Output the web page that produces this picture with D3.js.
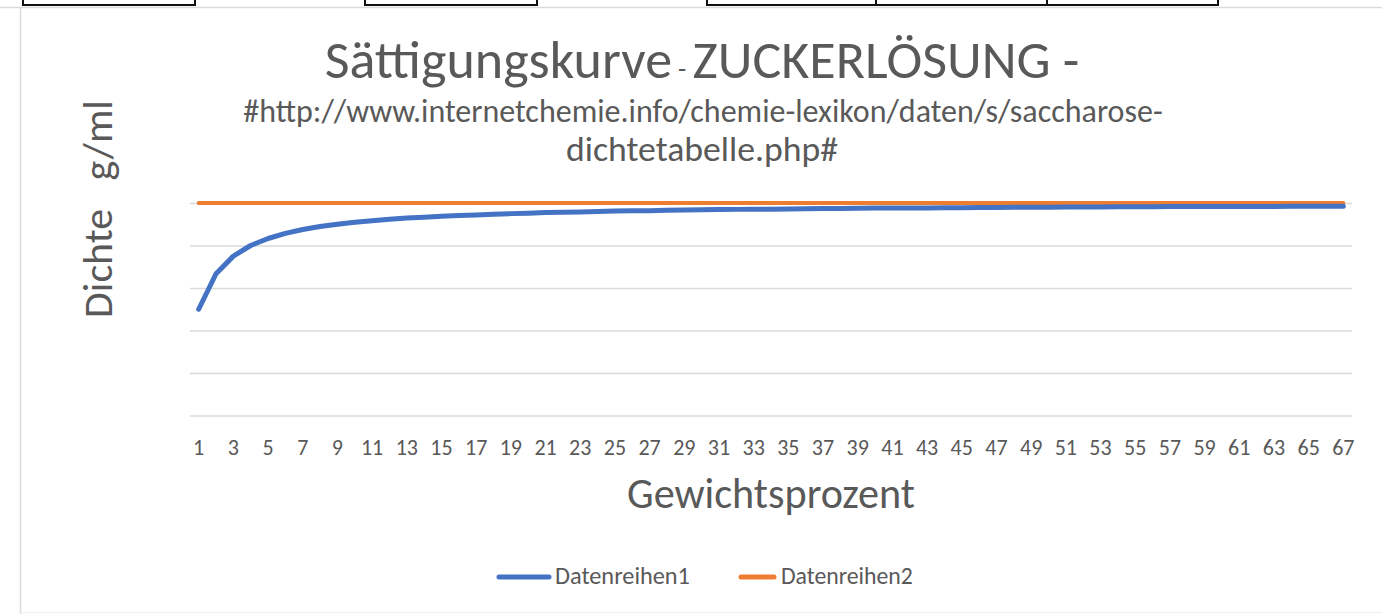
<!DOCTYPE html>
<html>
<head>
<meta charset="utf-8">
<script src="https://cdn.jsdelivr.net/npm/d3@7"></script>
<style>
  html, body { margin: 0; padding: 0; background: #fff; }
  svg { display: block; font-family: Carlito, Calibri, Lato, sans-serif; }
</style>
</head>
<body>
<svg id="chart" width="1382" height="614"></svg>
<script>
// ---- data ----
const categories = d3.range(1, 68); // 1..67 Gewichtsprozent
const tickLabels = categories.filter(d => d % 2 === 1);
const series1 = [
  0.500, 0.667, 0.750, 0.800, 0.833, 0.857, 0.875, 0.889, 0.900, 0.909,
  0.917, 0.923, 0.929, 0.933, 0.938, 0.941, 0.944, 0.947, 0.950, 0.952,
  0.955, 0.957, 0.958, 0.960, 0.962, 0.963, 0.964, 0.966, 0.967, 0.968,
  0.969, 0.970, 0.971, 0.971, 0.972, 0.973, 0.974, 0.974, 0.975, 0.976,
  0.976, 0.977, 0.977, 0.978, 0.978, 0.979, 0.979, 0.980, 0.980, 0.980,
  0.981, 0.981, 0.981, 0.982, 0.982, 0.982, 0.983, 0.983, 0.983, 0.984,
  0.984, 0.984, 0.984, 0.985, 0.985, 0.985, 0.985
];
const series2 = [
  1, 1, 1, 1, 1, 1, 1, 1, 1, 1,
  1, 1, 1, 1, 1, 1, 1, 1, 1, 1,
  1, 1, 1, 1, 1, 1, 1, 1, 1, 1,
  1, 1, 1, 1, 1, 1, 1, 1, 1, 1,
  1, 1, 1, 1, 1, 1, 1, 1, 1, 1,
  1, 1, 1, 1, 1, 1, 1, 1, 1, 1,
  1, 1, 1, 1, 1, 1, 1
];
const yTicks = [0, 0.2, 0.4, 0.6, 0.8, 1.0];
const seriesNames = ["Datenreihen1", "Datenreihen2"];
const seriesColors = ["#4472C4", "#ED7D31"];

// ---- layout ----
const svg = d3.select("#chart");
const plot = { left: 190, right: 1352, top: 203, bottom: 415.5 };
const textColor = "#595959";

// scale font size of a text element so its width matches a target width
function fitWidth(sel, target) {
  const node = sel.node();
  const w = node.getComputedTextLength();
  const k = target / w;
  const base = parseFloat(sel.style("font-size"));
  sel.style("font-size", (base * k) + "px");
  sel.selectAll("tspan").each(function () {
    const t = d3.select(this);
    const fs = parseFloat(t.style("font-size"));
    t.style("font-size", (fs * k) + "px");
  });
}

// sheet frame (spreadsheet background)
svg.append("line").attr("x1", 0).attr("x2", 1382).attr("y1", 7.5).attr("y2", 7.5)
  .attr("stroke", "#dcdcdc").attr("stroke-width", 1.5);
svg.append("line").attr("x1", 20.5).attr("x2", 20.5).attr("y1", 7).attr("y2", 614)
  .attr("stroke", "#dcdcdc").attr("stroke-width", 1.5);
svg.append("line").attr("x1", 20).attr("x2", 1382).attr("y1", 612.5).attr("y2", 612.5)
  .attr("stroke", "#eeeeee").attr("stroke-width", 1);
const boxes = [[23, 195], [365, 537], [707, 876], [876, 1047], [1047, 1218]];
svg.selectAll("rect.cell").data(boxes).join("rect").attr("class", "cell")
  .attr("x", d => d[0]).attr("y", -4).attr("width", d => d[1] - d[0]).attr("height", 9)
  .attr("fill", "#fff").attr("stroke", "#111").attr("stroke-width", 2);

// scales
const x = d3.scaleBand().domain(categories).range([plot.left, plot.right]);
const y = d3.scaleLinear().domain([0, 1]).range([plot.bottom, plot.top]);
const cx = d => x(d) + x.bandwidth() / 2;

// gridlines
svg.append("g").attr("transform", `translate(${plot.left},0)`)
  .call(d3.axisLeft(y).tickValues(yTicks).tickSize(-(plot.right - plot.left)).tickFormat(""))
  .call(g => g.select(".domain").remove())
  .call(g => g.selectAll(".tick line").attr("stroke", "#d9d9d9").attr("stroke-width", 1.3));

// x axis labels
svg.append("g").attr("transform", `translate(0,${plot.bottom})`)
  .call(d3.axisBottom(x).tickValues(tickLabels).tickSize(0).tickPadding(24))
  .call(g => g.select(".domain").remove())
  .call(g => g.selectAll("text").attr("fill", textColor)
    .style("font-family", "Carlito, Calibri, Lato, sans-serif").style("font-size", "22px"));

// lines
const line = d3.line().x((d, i) => cx(categories[i])).y(d => y(d));
svg.append("path").datum(series2).attr("d", line).attr("fill", "none")
  .attr("stroke", seriesColors[1]).attr("stroke-width", 4).attr("stroke-linecap", "round");
svg.append("path").datum(series1).attr("d", line).attr("fill", "none")
  .attr("stroke", seriesColors[0]).attr("stroke-width", 5).attr("stroke-linecap", "round")
  .attr("stroke-linejoin", "round");

// titles
const title = svg.append("text").attr("x", 702).attr("y", 78).attr("text-anchor", "middle")
  .attr("fill", textColor).style("font-size", "40px");
title.append("tspan").style("font-size", "40px").text("Sättigungskurve");
title.append("tspan").style("font-size", "20px").text(" - ");
title.append("tspan").style("font-size", "40px").text("ZUCKERLÖSUNG -");
fitWidth(title, 755);

const sub1 = svg.append("text").attr("x", 703).attr("y", 122).attr("text-anchor", "middle")
  .attr("fill", textColor).style("font-size", "27px")
  .text("#http://www.internetchemie.info/chemie-lexikon/daten/s/saccharose-");
fitWidth(sub1, 920);
const sub2 = svg.append("text").attr("x", 702).attr("y", 161).attr("text-anchor", "middle")
  .attr("fill", textColor).style("font-size", "27px")
  .text("dichtetabelle.php#");
fitWidth(sub2, 272);

// axis titles
const yt = svg.append("text").attr("transform", "translate(112,209) rotate(-90)")
  .attr("text-anchor", "middle").attr("fill", textColor).style("font-size", "35px")
  .attr("xml:space", "preserve").text("Dichte   g/ml");
fitWidth(yt, 218);
const xt = svg.append("text").attr("x", 771).attr("y", 508).attr("text-anchor", "middle")
  .attr("fill", textColor).style("font-size", "35px").text("Gewichtsprozent");
fitWidth(xt, 288);

// legend
const legendItems = [
  { name: seriesNames[0], color: seriesColors[0], x1: 499, x2: 549, tx: 555, w: 135 },
  { name: seriesNames[1], color: seriesColors[1], x1: 741, x2: 774, tx: 781, w: 132 }
];
const lg = svg.append("g");
legendItems.forEach(it => {
  lg.append("line").attr("x1", it.x1).attr("x2", it.x2).attr("y1", 577).attr("y2", 577)
    .attr("stroke", it.color).attr("stroke-width", 5).attr("stroke-linecap", "round");
  const t = lg.append("text").attr("x", it.tx).attr("y", 584).attr("fill", textColor)
    .style("font-size", "19px").text(it.name);
  fitWidth(t, it.w);
});
</script>
</body>
</html>
